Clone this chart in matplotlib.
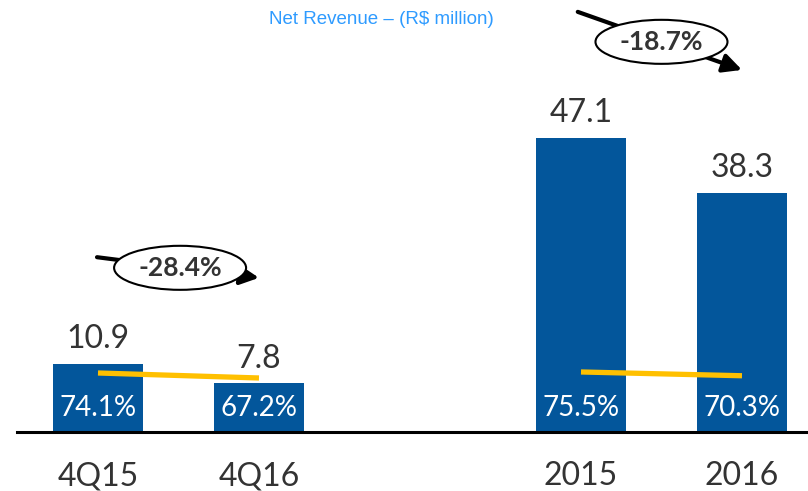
import matplotlib
matplotlib.use("Agg")
import matplotlib.pyplot as plt
from matplotlib.patches import Ellipse

categories = ["4Q15", "4Q16", "2015", "2016"]
positions = [0, 1, 3, 4]
revenue = [10.9, 7.8, 47.1, 38.3]
margin = [74.1, 67.2, 75.5, 70.3]
margin_labels = ["74.1%", "67.2%", "75.5%", "70.3%"]
changes = ["-28.4%", "-18.7%"]
title = "Net Revenue \u2013 (R$ million)"

W, H = 808, 491
fig = plt.figure(figsize=(W / 100, H / 100), dpi=100)
ax = fig.add_axes([17 / W, (H - 432) / H, 791 / W, 432 / H])

FONT = "Lato"
BAR = "#03569B"
TXT = "#333333"

ax.bar(positions, revenue, width=0.56, color=BAR, zorder=2)
ax.set_xlim(-0.503, 4.41)
ax.set_ylim(0, 69.2)
for s in ["top", "left", "right"]:
    ax.spines[s].set_visible(False)
ax.spines["bottom"].set_linewidth(2.2)
ax.spines["bottom"].set_color("black")
ax.set_yticks([])
ax.set_xticks(positions)
ax.set_xticklabels(categories, fontsize=23, color=TXT, family=FONT)
ax.tick_params(axis="x", length=0, pad=21)

for x, v in zip(positions, revenue):
    ax.annotate(f"{v:.1f}", (x, v), xytext=(0, 7), textcoords="offset points",
                ha="center", va="bottom", fontsize=23, color=TXT, family=FONT)
for x, lab in zip(positions, margin_labels):
    ax.annotate(lab, (x, 0), xytext=(0, 17), textcoords="offset points",
                ha="center", va="center", fontsize=20, color="white", family=FONT, zorder=5)

# margin line on secondary axis
ax2 = ax.twinx()
ax2.set_ylim(-7.3, 588.6)
ax2.axis("off")
ax2.plot(positions[:2], margin[:2], color="#FFC000", lw=3.8, solid_capstyle="butt")
ax2.plot(positions[2:], margin[2:], color="#FFC000", lw=3.8, solid_capstyle="butt")

# change annotations
def change_note(ax, start, tip, center, text):
    ax.annotate("", xy=tip, xytext=start, xycoords="data",
                arrowprops=dict(arrowstyle="-|>", lw=3, color="black",
                                mutation_scale=28, shrinkA=0, shrinkB=0),
                zorder=6, annotation_clip=False)
    e = Ellipse(center, width=132 / 161, height=44 / 6.24, facecolor="white",
                edgecolor="black", lw=1.5, zorder=7, clip_on=False)
    ax.add_patch(e)
    ax.text(center[0], center[1], text, ha="center", va="center", fontsize=19,
            fontweight="bold", color=TXT, family=FONT, zorder=8)

change_note(ax, (-0.006, 28.0), (1.0, 24.7), (0.51, 26.3), changes[0])
change_note(ax, (2.98, 67.3), (4.0, 58.0), (3.50, 62.5), changes[1])

fig.text(381 / W, 1 - 20 / H, title, ha="center", va="center", fontsize=13.5,
         color="#2E9BFF", family="Liberation Sans")

fig.savefig("out.png", dpi=100)
